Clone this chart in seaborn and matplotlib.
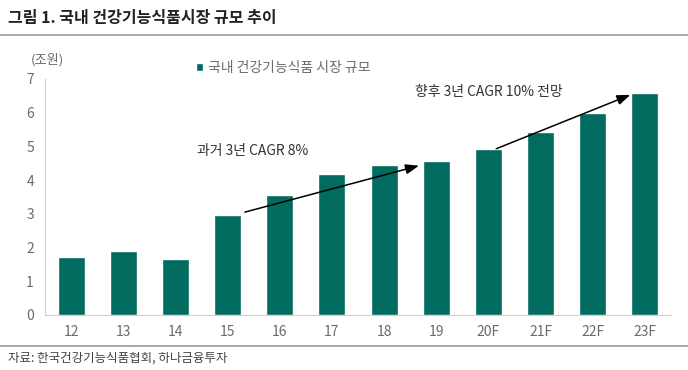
import matplotlib
matplotlib.use("Agg")
import matplotlib.pyplot as plt
import seaborn as sns
import pandas as pd

years = ["12", "13", "14", "15", "16", "17", "18", "19", "20F", "21F", "22F", "23F"]
market_size = [1.72, 1.90, 1.66, 2.97, 3.56, 4.18, 4.45, 4.57, 4.93, 5.43, 5.99, 6.59]
series_name = "국내 건강기능식품 시장 규모"

sns.set_style("white")
plt.rcParams['font.family'] = ['Noto Sans CJK KR', 'DejaVu Sans']

bar_color = "#006B5E"
gray_text = "#6b6b6b"
axis_gray = "#d0d0d0"

df = pd.DataFrame({"year": years, "size": market_size})

fig = plt.figure(figsize=(6.88, 3.70), dpi=100)
ax = fig.add_axes([45 / 688, 1 - 315 / 370, (671 - 45) / 688, (315 - 79) / 370])

sns.barplot(data=df, x="year", y="size", color=bar_color, width=0.52,
            saturation=1, ax=ax, label=series_name)

ax.set_ylim(0, 7)
ax.set_xlim(-0.5, len(years) - 0.5)
ax.set_yticks(range(0, 8))
ax.set_xlabel("")
ax.set_ylabel("")

for side in ["top", "right"]:
    ax.spines[side].set_visible(False)
for side in ["left", "bottom"]:
    ax.spines[side].set_color(axis_gray)
    ax.spines[side].set_linewidth(0.8)

ax.tick_params(axis="y", colors=gray_text, labelsize=10, length=4, width=0.8,
               color=axis_gray, pad=4)
ax.tick_params(axis="x", colors=gray_text, labelsize=10, length=0, pad=7)
ax.set_xticks([i + 0.5 for i in range(len(years) - 1)], minor=True)
ax.tick_params(axis="x", which="minor", length=4, width=0.8, color=axis_gray)

# growth arrows
ax.annotate("", xy=(6.72, 4.45), xytext=(3.28, 3.03),
            arrowprops=dict(arrowstyle="-|>,head_length=0.8,head_width=0.3",
                            color="black", lw=1.1))
ax.annotate("", xy=(10.77, 6.56), xytext=(8.10, 4.90),
            arrowprops=dict(arrowstyle="-|>,head_length=0.8,head_width=0.3",
                            color="black", lw=1.1))
ax.text(2.42, 4.85, "과거 3년 CAGR 8%", fontsize=10, color="#333333",
        va="center", ha="left")
ax.text(6.59, 6.62, "향후 3년 CAGR 10% 전망", fontsize=10, color="#333333",
        va="center", ha="left")

leg = ax.legend(loc="upper left", bbox_to_anchor=(0.232, 1.1), frameon=False,
                fontsize=10, handlelength=0.55, handleheight=0.55,
                handletextpad=0.3, borderaxespad=0)
for t in leg.get_texts():
    t.set_color(gray_text)

# header, unit, footer
fig.text(8 / 688, 1 - 18 / 370, "그림 1. 국내 건강기능식품시장 규모 추이",
         fontsize=11.5, fontweight="bold", color="#222222", va="center", ha="left")
fig.add_artist(plt.Line2D([0, 1], [1 - 35 / 370, 1 - 35 / 370],
                          color="#9a9a9a", lw=1.2))
fig.text(47 / 688, 1 - 60 / 370, "(조원)", fontsize=9.5, color=gray_text,
         va="center", ha="center")
fig.add_artist(plt.Line2D([0, 1], [1 - 346 / 370, 1 - 346 / 370],
                          color="#9a9a9a", lw=1.2))
fig.text(8 / 688, 1 - 358 / 370, "자료: 한국건강기능식품협회, 하나금융투자",
         fontsize=9, color="#444444", va="center", ha="left")

fig.savefig("out.png", dpi=100)
